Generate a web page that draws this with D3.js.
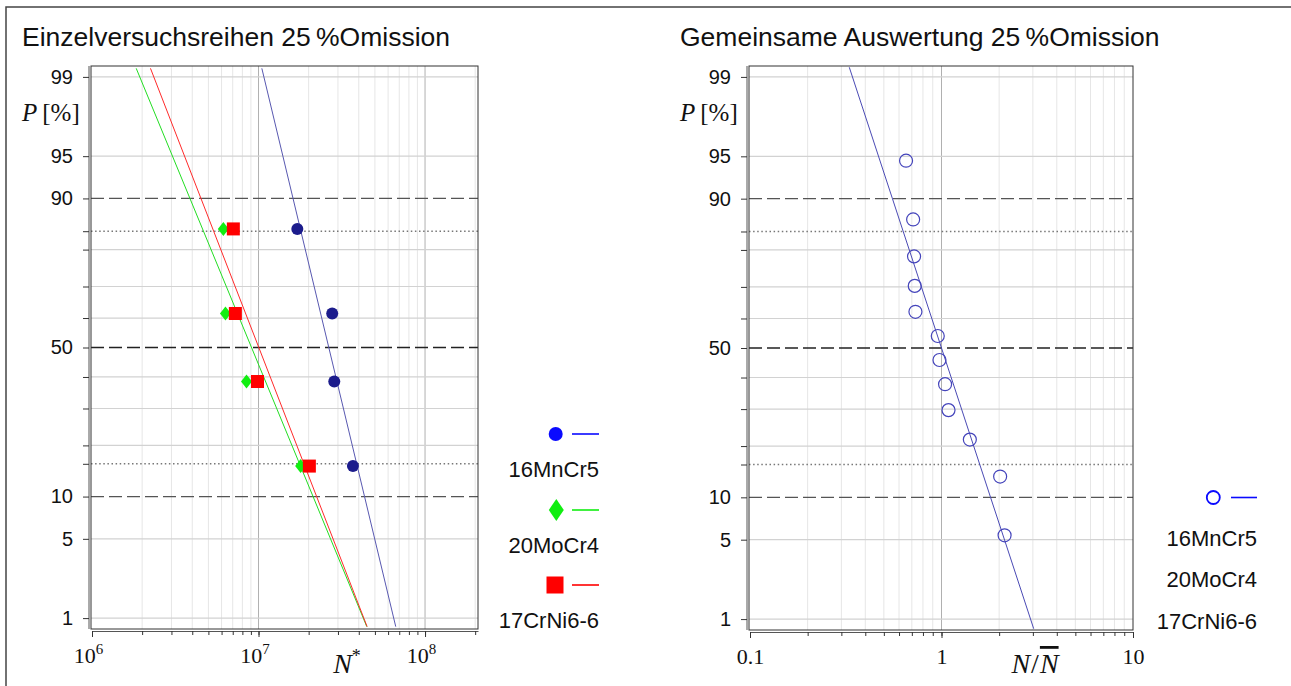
<!DOCTYPE html>
<html>
<head>
<meta charset="utf-8">
<script src="https://cdn.jsdelivr.net/npm/d3@7"></script>
<style>
  body { margin: 0; background: #fff; }
  svg { display: block; }
  text { font-family: "Liberation Sans", Arial, sans-serif; fill: #111; }
  .serif { font-family: "Liberation Serif", "DejaVu Serif", serif; }
</style>
</head>
<body>
<svg id="chart" width="1291" height="686"></svg>
<script>
// materials
const MATERIALS = ["16MnCr5", "20MoCr4", "17CrNi6-6"];

// left panel: single test series, P [%] vs N*
const P_LEFT = [84.6, 61.5, 38.5, 15.4];
const N_MNCR = [1.71e7, 2.77e7, 2.85e7, 3.69e7];
const N_MOCR = [6.15e6, 6.33e6, 8.47e6, 1.79e7];
const N_CRNI = [7.06e6, 7.26e6, 9.86e6, 2.02e7];

// fitted lines, end points (P at top / bottom of plot)
const FIT_P_LEFT = [99.18, 0.82];
const FIT_MNCR = [1.047e7, 6.67e7];
const FIT_MOCR = [1.843e6, 4.47e7];
const FIT_CRNI = [2.245e6, 4.49e7];

// right panel: joint evaluation, P [%] vs N/N_mean
const P_RIGHT = [94.6, 86.5, 78.4, 70.3, 62.2, 54.1, 45.9, 37.8, 29.7, 21.6, 13.5, 5.4];
const N_RIGHT = [0.653, 0.711, 0.719, 0.725, 0.731, 0.956, 0.976, 1.044, 1.088, 1.406, 2.024, 2.135];
const FIT_P_RIGHT = [99.2, 0.8];
const FIT_RIGHT = [0.330, 3.03];

// y axis
const P_GRID = [1, 5, 20, 30, 40, 60, 70, 80, 95, 99];
const P_DASHED = [10, 50, 90];
const P_DOTTED = [15.87, 84.13];
const P_LABELS = [1, 5, 10, 50, 90, 95, 99];

const TITLES = ["Einzelversuchsreihen 25\u2009%Omission", "Gemeinsame Auswertung 25\u2009%Omission"];

// inverse of the standard normal cdf (Acklam)
function probit(p) {
    const a = [-3.969683028665376e+01, 2.209460984245205e+02, -2.759285104469687e+02, 1.383577518672690e+02, -3.066479806614716e+01, 2.506628277459239e+00];
    const b = [-5.447609879822406e+01, 1.615858368580409e+02, -1.556989798598866e+02, 6.680131188771972e+01, -1.328068155288572e+01];
    const c = [-7.784894002430293e-03, -3.223964580411365e-01, -2.400758277161838e+00, -2.549671750451210e+00, 4.374664141464968e+00, 2.938163982698783e+00];
    const d = [7.784695709041462e-03, 3.224671290700398e-01, 2.445134137142996e+00, 3.754408661907416e+00];
    const pl = 0.02425;
    if (p < pl) {
        const q = Math.sqrt(-2 * Math.log(p));
        return (((((c[0]*q+c[1])*q+c[2])*q+c[3])*q+c[4])*q+c[5]) / ((((d[0]*q+d[1])*q+d[2])*q+d[3])*q+1);
    }
    if (p > 1 - pl) {
        const q = Math.sqrt(-2 * Math.log(1 - p));
        return -(((((c[0]*q+c[1])*q+c[2])*q+c[3])*q+c[4])*q+c[5]) / ((((d[0]*q+d[1])*q+d[2])*q+d[3])*q+1);
    }
    const q = p - 0.5, r = q * q;
    return (((((a[0]*r+a[1])*r+a[2])*r+a[3])*r+a[4])*r+a[5])*q / (((((b[0]*r+b[1])*r+b[2])*r+b[3])*r+b[4])*r+1);
}

const svg = d3.select("#chart");

// outer frame (runs off the right/bottom edge)
svg.append("rect")
    .attr("x", 6).attr("y", 7)
    .attr("width", 1320).attr("height", 720)
    .attr("fill", "none").attr("stroke", "#444").attr("stroke-width", 1.5);

function minorValues(domain) {
    const out = [];
    const lo = Math.floor(Math.log10(domain[0])), hi = Math.ceil(Math.log10(domain[1]));
    for (let e = lo; e <= hi; e++) {
        for (let m = 1; m <= 9; m++) {
            const v = m * Math.pow(10, e);
            if (v >= domain[0] * 0.999 && v <= domain[1] * 1.001) out.push(v);
        }
    }
    return out;
}

function drawPanel(cfg) {
    const g = svg.append("g");
    const x = d3.scaleLog().domain(cfg.xDomain).range([cfg.xRange[0], cfg.xRange[1]]);
    const z = d3.scaleLinear().domain([-2.42, 2.42]).range([cfg.y1, cfg.y0]);
    const y = p => z(probit(p / 100));

    const clipId = "clip" + cfg.id;
    g.append("clipPath").attr("id", clipId)
        .append("rect")
        .attr("x", cfg.x0).attr("y", cfg.y0)
        .attr("width", cfg.x1 - cfg.x0).attr("height", cfg.y1 - cfg.y0);

    // title
    g.append("text")
        .attr("x", cfg.titleX).attr("y", 46)
        .style("font-size", "26.5px")
        .text(cfg.title);

    // vertical grid
    const minors = minorValues(cfg.xDomain);
    g.append("g").selectAll("line")
        .data(minors.filter(v => !cfg.xMajor.includes(v)))
        .join("line")
        .attr("x1", d => x(d)).attr("x2", d => x(d))
        .attr("y1", cfg.y0).attr("y2", cfg.y1)
        .attr("stroke", "#e6e6e6").attr("stroke-width", 1);
    g.append("g").selectAll("line")
        .data(cfg.xMajor.filter(v => v > cfg.xDomain[0] * 1.01 && v < cfg.xDomain[1] * 0.99))
        .join("line")
        .attr("x1", d => x(d)).attr("x2", d => x(d))
        .attr("y1", cfg.y0).attr("y2", cfg.y1)
        .attr("stroke", "#b0b0b0").attr("stroke-width", 1);

    // horizontal grid
    g.append("g").selectAll("line")
        .data(P_GRID)
        .join("line")
        .attr("x1", cfg.x0).attr("x2", cfg.x1)
        .attr("y1", d => y(d)).attr("y2", d => y(d))
        .attr("stroke", "#d2d2d2").attr("stroke-width", 1.2);
    g.append("g").selectAll("line")
        .data(P_DOTTED)
        .join("line")
        .attr("x1", cfg.x0).attr("x2", cfg.x1)
        .attr("y1", d => y(d)).attr("y2", d => y(d))
        .attr("stroke", "#777").attr("stroke-width", 1.5)
        .attr("stroke-dasharray", "1.5,2.6");
    g.append("g").selectAll("line")
        .data(P_DASHED)
        .join("line")
        .attr("x1", cfg.x0).attr("x2", cfg.x1)
        .attr("y1", d => y(d)).attr("y2", d => y(d))
        .attr("stroke", d => d === 50 ? "#222" : "#555").attr("stroke-width", 1.3)
        .attr("stroke-dasharray", "13,5");

    // plot frame
    g.append("rect")
        .attr("x", cfg.x0).attr("y", cfg.y0)
        .attr("width", cfg.x1 - cfg.x0).attr("height", cfg.y1 - cfg.y0)
        .attr("fill", "none").attr("stroke", "#333").attr("stroke-width", 1);

    // y axis
    const yAxisG = g.append("g").attr("transform", `translate(${cfg.x0 - 2},0)`);
    const yAxis = d3.axisLeft(z)
        .tickValues(P_GRID.concat(P_DASHED, P_DOTTED).map(p => probit(p / 100)))
        .tickSize(6).tickSizeOuter(0)
        .tickFormat(v => {
            const p = P_LABELS.find(q => Math.abs(probit(q / 100) - v) < 1e-9);
            return p === undefined ? "" : String(p);
        });
    yAxisG.call(yAxis);
    yAxisG.select(".domain").attr("stroke", "#555").attr("d", `M0,${cfg.y0}V${cfg.y1}`);
    yAxisG.selectAll(".tick line").attr("stroke", "#333");
    yAxisG.selectAll(".tick text")
        .attr("x", -16)
        .style("font-family", "'Liberation Sans', Arial, sans-serif")
        .style("font-size", "20px").attr("fill", "#111");

    // P [%] label
    const pl = g.append("text").attr("class", "serif")
        .attr("x", cfg.pLabelX).attr("y", 121)
        .style("font-size", "25px");
    pl.append("tspan").style("font-style", "italic").text("P");
    pl.append("tspan").attr("dx", 5).text("[%]");

    // x axis
    const xAxisG = g.append("g").attr("transform", `translate(0,${cfg.y1 + 2})`);
    xAxisG.call(d3.axisBottom(x).tickValues(minors).tickSize(4).tickSizeOuter(0).tickFormat(""));
    xAxisG.select(".domain").attr("stroke", "#555");
    xAxisG.selectAll(".tick line").attr("stroke", "#333");
    const xMajG = g.append("g").attr("transform", `translate(0,${cfg.y1 + 2})`);
    xMajG.call(d3.axisBottom(x).tickValues(cfg.xMajor).tickSize(6).tickSizeOuter(0).tickFormat(""));
    xMajG.select(".domain").remove();
    xMajG.selectAll(".tick line").attr("stroke", "#333");
    xMajG.selectAll(".tick").each(function (d, i) {
        const t = d3.select(this).append("text")
            .attr("class", "serif")
            .attr("y", 32)
            .attr("text-anchor", "middle")
            .style("font-size", "22px");
        cfg.xLabel(t, d, i);
    });

    // x axis title
    cfg.xTitle(g.append("text").attr("class", "serif")
        .attr("x", cfg.xTitleX).attr("y", 673)
        .attr("text-anchor", "middle")
        .style("font-size", "28px"));

    const plot = g.append("g").attr("clip-path", `url(#${clipId})`);
    return { g, plot, x, y };
}

// ---------- left panel ----------
const left = drawPanel({
    id: "L", title: TITLES[0], titleX: 22,
    x0: 91, x1: 478, y0: 66, y1: 629,
    xDomain: [1e6, 2.08e8], xRange: [92, 478],
    xMajor: [1e6, 1e7, 1e8],
    pLabelX: 22, xTitleX: 347,
    xLabel: (t, d) => {
        t.attr("x", -4);
        t.append("tspan").text("10");
        t.append("tspan").attr("dy", -9).style("font-size", "15px").text(Math.round(Math.log10(d)));
    },
    xTitle: t => {
        t.append("tspan").style("font-style", "italic").text("N");
        t.append("tspan").attr("dy", -11).style("font-size", "18px").text("*");
    }
});

const lineGen = (x, y) => d3.line().x(d => x(d[1])).y(d => y(d[0]));
const fitsLeft = [
    { n: FIT_MNCR, color: "#5858b0" },
    { n: FIT_MOCR, color: "#22dd22" },
    { n: FIT_CRNI, color: "#ff2a2a" }
];
fitsLeft.forEach(f => {
    left.plot.append("path")
        .datum(FIT_P_LEFT.map((p, i) => [p, f.n[i]]))
        .attr("fill", "none").attr("stroke", f.color).attr("stroke-width", 1)
        .attr("d", lineGen(left.x, left.y));
});

// 20MoCr4 diamonds
left.plot.append("g").selectAll("path")
    .data(P_LEFT.map((p, i) => [p, N_MOCR[i]]))
    .join("path")
    .attr("transform", d => `translate(${left.x(d[1])},${left.y(d[0])})`)
    .attr("d", "M0,-7L5.5,0L0,7L-5.5,0Z")
    .attr("fill", "#11ee11");
// 17CrNi6-6 squares
left.plot.append("g").selectAll("rect")
    .data(P_LEFT.map((p, i) => [p, N_CRNI[i]]))
    .join("rect")
    .attr("x", d => left.x(d[1]) - 6.5).attr("y", d => left.y(d[0]) - 6.5)
    .attr("width", 13).attr("height", 13)
    .attr("fill", "#ff0000");
// 16MnCr5 circles
left.plot.append("g").selectAll("circle")
    .data(P_LEFT.map((p, i) => [p, N_MNCR[i]]))
    .join("circle")
    .attr("cx", d => left.x(d[1])).attr("cy", d => left.y(d[0]))
    .attr("r", 6)
    .attr("fill", "#1c1c8c");

// left legend
const legL = svg.append("g");
const legLColors = ["#0a0aff", "#11ee11", "#ff0000"];
const legLY = [434, 510, 585];
const legLTextY = [469, 545, 620];
legL.append("circle").attr("cx", 555.7).attr("cy", legLY[0]).attr("r", 7).attr("fill", legLColors[0]);
legL.append("path").attr("transform", `translate(556.3,${legLY[1]})`)
    .attr("d", "M0,-11L7.5,0L0,11L-7.5,0Z").attr("fill", legLColors[1]);
legL.append("rect").attr("x", 546.5).attr("y", legLY[2] - 8.5).attr("width", 17).attr("height", 17).attr("fill", legLColors[2]);
MATERIALS.forEach((m, i) => {
    legL.append("line")
        .attr("x1", 572).attr("x2", 599)
        .attr("y1", legLY[i]).attr("y2", legLY[i])
        .attr("stroke", legLColors[i]).attr("stroke-width", 1.6);
    legL.append("text")
        .attr("x", 599).attr("y", legLTextY[i])
        .attr("dy", "0.36em").attr("text-anchor", "end")
        .style("font-size", "22px")
        .text(m);
});

// ---------- right panel ----------
const right = drawPanel({
    id: "R", title: TITLES[1], titleX: 680,
    x0: 749, x1: 1133, y0: 66, y1: 630,
    xDomain: [0.1, 10], xRange: [750, 1133],
    xMajor: [0.1, 1, 10],
    pLabelX: 680, xTitleX: 1035,
    xLabel: (t, d) => { t.text(d === 0.1 ? "0.1" : String(d)); },
    xTitle: t => {
        t.append("tspan").style("font-style", "italic").text("N");
        t.append("tspan").attr("dx", 1).text("/");
        t.append("tspan").attr("dx", 1).style("font-style", "italic")
            .style("text-decoration", "overline").text("N");
    }
});

right.plot.append("path")
    .datum(FIT_P_RIGHT.map((p, i) => [p, FIT_RIGHT[i]]))
    .attr("fill", "none").attr("stroke", "#4a4ab4").attr("stroke-width", 1)
    .attr("d", lineGen(right.x, right.y));

right.plot.append("g").selectAll("circle")
    .data(P_RIGHT.map((p, i) => [p, N_RIGHT[i]]))
    .join("circle")
    .attr("cx", d => right.x(d[1])).attr("cy", d => right.y(d[0]))
    .attr("r", 6.5)
    .attr("fill", "none").attr("stroke", "#4444bb").attr("stroke-width", 1.2);

// right legend
const legR = svg.append("g");
legR.append("circle").attr("cx", 1213.3).attr("cy", 497.5).attr("r", 6.5)
    .attr("fill", "none").attr("stroke", "#0a0aff").attr("stroke-width", 1.8);
legR.append("line").attr("x1", 1231).attr("x2", 1257).attr("y1", 497.5).attr("y2", 497.5)
    .attr("stroke", "#0a0aff").attr("stroke-width", 1.6);
const legRTextY = [538, 579, 621];
MATERIALS.forEach((m, i) => {
    legR.append("text")
        .attr("x", 1257).attr("y", legRTextY[i])
        .attr("dy", "0.36em").attr("text-anchor", "end")
        .style("font-size", "22px")
        .text(m);
});
</script>
</body>
</html>
